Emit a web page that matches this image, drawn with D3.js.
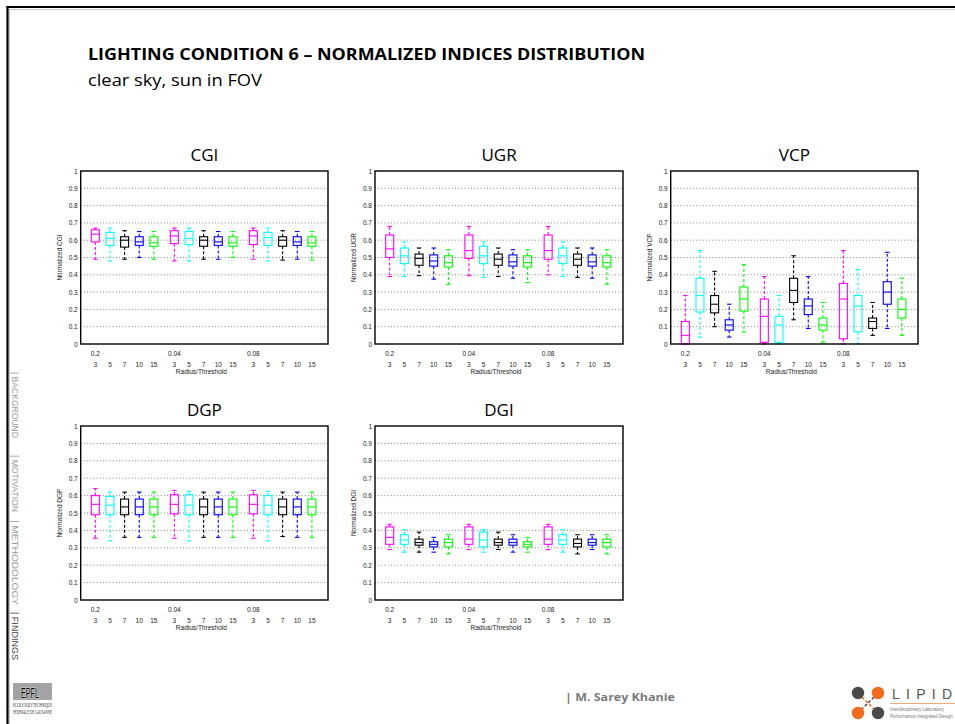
<!DOCTYPE html>
<html>
<head>
<meta charset="utf-8">
<script src="https://cdn.jsdelivr.net/npm/d3@7"></script>
<style>
  body { margin: 0; background: #fff; }
  svg { display: block; }
</style>
</head>
<body>
<div id="paper"></div>
<script>
// lighting condition 6 - normalized indices, box plots per radius/threshold

let colours = ["#ff00ff", "#00ffff", "#000000", "#0000ff", "#00ff00"];
let radii = ["0.2", "0.04", "0.08"];
let thresholds = ["3", "5", "7", "10", "15"];
let yTicks = [0, 0.1, 0.2, 0.3, 0.4, 0.5, 0.6, 0.7, 0.8, 0.9, 1];

// each box: [low whisker, q1, median, q3, high whisker], ordered radius then threshold
const cgi = [
  [0.49, 0.59, 0.635, 0.66, 0.67], [0.48, 0.57, 0.61, 0.645, 0.67], [0.49, 0.56, 0.60, 0.62, 0.655],
  [0.50, 0.57, 0.59, 0.62, 0.65], [0.49, 0.565, 0.585, 0.62, 0.65],
  [0.48, 0.58, 0.625, 0.655, 0.67], [0.48, 0.575, 0.61, 0.65, 0.67], [0.49, 0.565, 0.60, 0.62, 0.655],
  [0.49, 0.57, 0.59, 0.62, 0.65], [0.50, 0.565, 0.585, 0.62, 0.65],
  [0.49, 0.575, 0.625, 0.655, 0.67], [0.48, 0.57, 0.615, 0.645, 0.67], [0.485, 0.565, 0.60, 0.62, 0.655],
  [0.49, 0.57, 0.59, 0.62, 0.65], [0.485, 0.565, 0.585, 0.62, 0.65]
];
const ugr = [
  [0.39, 0.50, 0.55, 0.63, 0.68], [0.39, 0.465, 0.51, 0.555, 0.59], [0.395, 0.455, 0.495, 0.52, 0.555],
  [0.375, 0.45, 0.48, 0.515, 0.555], [0.345, 0.445, 0.47, 0.51, 0.545],
  [0.395, 0.495, 0.54, 0.63, 0.68], [0.385, 0.465, 0.51, 0.565, 0.59], [0.39, 0.455, 0.49, 0.52, 0.555],
  [0.38, 0.45, 0.475, 0.515, 0.545], [0.355, 0.445, 0.47, 0.51, 0.545],
  [0.40, 0.49, 0.54, 0.63, 0.68], [0.39, 0.465, 0.51, 0.555, 0.59], [0.385, 0.455, 0.49, 0.52, 0.555],
  [0.38, 0.45, 0.475, 0.515, 0.555], [0.345, 0.445, 0.47, 0.51, 0.545]
];
const vcp = [
  [0.0, 0.0, 0.05, 0.13, 0.28], [0.04, 0.185, 0.28, 0.38, 0.54], [0.10, 0.18, 0.23, 0.28, 0.42],
  [0.04, 0.08, 0.11, 0.14, 0.23], [0.07, 0.19, 0.26, 0.33, 0.46],
  [0.0, 0.01, 0.16, 0.26, 0.39], [0.0, 0.01, 0.11, 0.16, 0.28], [0.14, 0.24, 0.31, 0.38, 0.51],
  [0.09, 0.17, 0.22, 0.26, 0.39], [0.01, 0.08, 0.11, 0.15, 0.24],
  [0.0, 0.03, 0.26, 0.35, 0.54], [0.0, 0.07, 0.22, 0.28, 0.43], [0.05, 0.09, 0.13, 0.15, 0.24],
  [0.09, 0.23, 0.30, 0.36, 0.53], [0.05, 0.15, 0.20, 0.26, 0.38]
];
const dgp = [
  [0.355, 0.49, 0.55, 0.60, 0.64], [0.34, 0.49, 0.545, 0.595, 0.62], [0.36, 0.49, 0.535, 0.58, 0.62],
  [0.36, 0.49, 0.535, 0.58, 0.62], [0.36, 0.49, 0.535, 0.58, 0.62],
  [0.355, 0.495, 0.55, 0.605, 0.63], [0.34, 0.49, 0.545, 0.605, 0.625], [0.36, 0.49, 0.535, 0.58, 0.62],
  [0.36, 0.49, 0.535, 0.58, 0.62], [0.36, 0.49, 0.535, 0.58, 0.62],
  [0.355, 0.495, 0.55, 0.605, 0.63], [0.34, 0.49, 0.545, 0.60, 0.625], [0.365, 0.49, 0.535, 0.58, 0.62],
  [0.36, 0.49, 0.535, 0.58, 0.62], [0.36, 0.49, 0.535, 0.58, 0.62]
];
const dgi = [
  [0.29, 0.32, 0.36, 0.42, 0.435], [0.275, 0.32, 0.345, 0.375, 0.405], [0.275, 0.315, 0.33, 0.35, 0.39],
  [0.275, 0.305, 0.32, 0.335, 0.36], [0.265, 0.305, 0.33, 0.35, 0.375],
  [0.29, 0.32, 0.35, 0.42, 0.435], [0.275, 0.305, 0.345, 0.39, 0.405], [0.29, 0.315, 0.33, 0.35, 0.39],
  [0.275, 0.315, 0.33, 0.35, 0.375], [0.275, 0.305, 0.32, 0.335, 0.36],
  [0.29, 0.32, 0.35, 0.42, 0.435], [0.275, 0.32, 0.345, 0.375, 0.405], [0.265, 0.305, 0.325, 0.35, 0.375],
  [0.29, 0.315, 0.33, 0.35, 0.375], [0.265, 0.305, 0.33, 0.35, 0.375]
];

const panels = [
  { title: "CGI", stats: cgi, x: 80.7, y: 171, w: 247.3, h: 173 },
  { title: "UGR", stats: ugr, x: 375, y: 171, w: 248, h: 173 },
  { title: "VCP", stats: vcp, x: 670.7, y: 171, w: 247.3, h: 173 },
  { title: "DGP", stats: dgp, x: 80.7, y: 426, w: 247.3, h: 174 },
  { title: "DGI", stats: dgi, x: 375, y: 426, w: 248, h: 174 }
];

const svg = d3
  .select("#paper")
  .append("svg")
  .attr("width", 955)
  .attr("height", 724)
  .style("font-family", "'Liberation Sans', Arial, sans-serif");

// slide frame
svg.append("line").attr("x1", 9.5).attr("x2", 9.5).attr("y1", 9).attr("y2", 724).attr("stroke", "#c8c8c8");
svg.append("line").attr("x1", 9).attr("x2", 955).attr("y1", 9.5).attr("y2", 9.5).attr("stroke", "#c8c8c8");
svg.append("line").attr("x1", 7.5).attr("x2", 7.5).attr("y1", 6).attr("y2", 724).attr("stroke", "#000").attr("stroke-width", 2.2);
svg.append("line").attr("x1", 6.5).attr("x2", 955).attr("y1", 7).attr("y2", 7).attr("stroke", "#000").attr("stroke-width", 2.2);

// heading
svg.append("text").attr("x", 88).attr("y", 60)
  .attr("textLength", 557).attr("lengthAdjust", "spacingAndGlyphs")
  .style("font-family", "'Open Sans', sans-serif").style("font-weight", "bold").style("font-size", "16px")
  .text("LIGHTING CONDITION 6 \u2013 NORMALIZED INDICES DISTRIBUTION");
svg.append("text").attr("x", 88).attr("y", 86)
  .attr("textLength", 174).attr("lengthAdjust", "spacingAndGlyphs")
  .style("font-family", "'Open Sans', sans-serif").style("font-size", "16px")
  .text("clear sky, sun in FOV");

function drawPanel(p) {
  const g = svg.append("g");
  const x = d3.scaleLinear().domain([0, 16.9]).range([p.x, p.x + p.w]);
  const y = d3.scaleLinear().domain([0, 1]).range([p.y + p.h, p.y]);
  const pos = (k) => 1 + (k % 5) + 5.4 * Math.floor(k / 5);

  g.append("text").attr("x", p.x + p.w / 2).attr("y", p.y - 10)
    .attr("text-anchor", "middle")
    .style("font-family", "'Open Sans', sans-serif").style("font-size", "17px").style("font-weight", "400")
    .text(p.title);

  // dotted grid
  g.selectAll(".grid").data(yTicks.slice(1, -1)).join("line")
    .attr("x1", p.x).attr("x2", p.x + p.w)
    .attr("y1", (d) => y(d)).attr("y2", (d) => y(d))
    .attr("stroke", "#666").attr("stroke-width", 0.8).attr("stroke-dasharray", "1,2.2");

  const yAxis = d3.axisLeft(y).tickValues(yTicks).tickSize(0).tickPadding(3).tickFormat(d3.format("~g"));
  const ya = g.append("g").attr("transform", `translate(${p.x},0)`).call(yAxis);
  ya.select(".domain").remove();
  ya.selectAll("text").style("font-size", "6.5px").style("font-family", "'Liberation Sans', Arial, sans-serif").attr("fill", "#222");

  g.append("text")
    .attr("transform", `translate(${p.x - 19},${p.y + p.h / 2}) rotate(-90)`)
    .attr("text-anchor", "middle").style("font-size", "6.5px").attr("fill", "#222")
    .text("Normalized " + p.title);

  // x labels
  const base = p.y + p.h;
  g.selectAll(".grp").data(radii).join("text")
    .attr("x", (d, i) => x(pos(i * 5))).attr("y", base + 11.5)
    .attr("text-anchor", "middle").style("font-size", "6.5px").attr("fill", "#222")
    .text((d) => d);
  g.selectAll(".thr").data(p.stats).join("text")
    .attr("x", (d, k) => x(pos(k))).attr("y", base + 23)
    .attr("text-anchor", "middle").style("font-size", "6.5px").attr("fill", "#222")
    .text((d, k) => thresholds[k % 5]);
  g.append("text").attr("x", p.x + p.w / 2 - 3).attr("y", base + 30)
    .attr("text-anchor", "middle").style("font-size", "6.5px").attr("fill", "#222")
    .text("Radius/Threshold");

  // boxes
  const bw = 8, cw = 4.5;
  const boxes = g.selectAll(".box").data(p.stats).join("g")
    .attr("stroke", (d, k) => colours[k % 5]).attr("fill", "none").attr("stroke-width", 1.1);
  boxes.append("line")
    .attr("x1", (d, k) => x(pos(k))).attr("x2", (d, k) => x(pos(k)))
    .attr("y1", (d) => y(d[3])).attr("y2", (d) => y(d[4]))
    .attr("stroke-dasharray", "3,2");
  boxes.append("line")
    .attr("x1", (d, k) => x(pos(k))).attr("x2", (d, k) => x(pos(k)))
    .attr("y1", (d) => y(d[1])).attr("y2", (d) => y(d[0]))
    .attr("stroke-dasharray", "3,2");
  boxes.append("line")
    .attr("x1", (d, k) => x(pos(k)) - cw / 2).attr("x2", (d, k) => x(pos(k)) + cw / 2)
    .attr("y1", (d) => y(d[4])).attr("y2", (d) => y(d[4]));
  boxes.append("line")
    .attr("x1", (d, k) => x(pos(k)) - cw / 2).attr("x2", (d, k) => x(pos(k)) + cw / 2)
    .attr("y1", (d) => y(d[0])).attr("y2", (d) => y(d[0]));
  boxes.append("rect")
    .attr("x", (d, k) => x(pos(k)) - bw / 2).attr("width", bw)
    .attr("y", (d) => y(d[3])).attr("height", (d) => y(d[1]) - y(d[3]));
  boxes.append("line")
    .attr("x1", (d, k) => x(pos(k)) - bw / 2).attr("x2", (d, k) => x(pos(k)) + bw / 2)
    .attr("y1", (d) => y(d[2])).attr("y2", (d) => y(d[2]));

  // frame
  g.append("rect").attr("x", p.x).attr("y", p.y).attr("width", p.w).attr("height", p.h)
    .attr("fill", "none").attr("stroke", "#000").attr("stroke-width", 1.4);
}

panels.forEach(drawPanel);

// side navigation
const nav = [
  { label: "| BACKGROUND", y: 372, w: 66, c: "#999" },
  { label: "| MOTIVATION", y: 455, w: 57, c: "#999" },
  { label: "| METHODOLOGY", y: 520, w: 85, c: "#999" },
  { label: "| FINDINGS", y: 612, w: 48, c: "#444" }
];
svg.selectAll(".nav").data(nav).join("text")
  .attr("transform", (d) => `translate(12,${d.y}) rotate(90)`)
  .attr("textLength", (d) => d.w).attr("lengthAdjust", "spacingAndGlyphs")
  .style("font-size", "8.5px").attr("fill", (d) => d.c)
  .text((d) => d.label);

// footer: EPFL logo
svg.append("rect").attr("x", 13).attr("y", 683).attr("width", 39).attr("height", 17).attr("fill", "#a3a3a3");
svg.append("text").attr("x", 30).attr("y", 697.5).attr("text-anchor", "middle")
  .attr("textLength", 18).attr("lengthAdjust", "spacingAndGlyphs")
  .attr("stroke", "#fff").attr("stroke-width", 0.7).attr("paint-order", "stroke")
  .style("font-family", "'Liberation Sans Narrow', 'Liberation Sans', sans-serif").style("font-size", "15px")
  .text("EPFL");
svg.append("text").attr("x", 13).attr("y", 707).attr("textLength", 39).attr("lengthAdjust", "spacingAndGlyphs")
  .style("font-family", "'Liberation Serif', serif").style("font-size", "6px").attr("fill", "#333").text("\u00c9COLE POLYTECHNIQUE");
svg.append("text").attr("x", 13).attr("y", 714).attr("textLength", 39).attr("lengthAdjust", "spacingAndGlyphs")
  .style("font-family", "'Liberation Serif', serif").style("font-size", "6px").attr("fill", "#333").text("F\u00c9D\u00c9RALE DE LAUSANNE");

// footer: author
svg.append("text").attr("x", 565).attr("y", 701)
  .attr("textLength", 110).attr("lengthAdjust", "spacingAndGlyphs")
  .style("font-family", "'Open Sans', sans-serif").style("font-weight", "bold").style("font-size", "11px")
  .attr("fill", "#7a7a7a").text("| M. Sarey Khanie");

// footer: LIPID logo
const dots = [
  { cx: 858, cy: 693, c: "#4a4a4a" }, { cx: 878, cy: 693, c: "#f26a1b" },
  { cx: 858, cy: 713, c: "#f26a1b" }, { cx: 878, cy: 713, c: "#4a4a4a" }
];
svg.append("line").attr("x1", 862).attr("y1", 697).attr("x2", 874).attr("y2", 709).attr("stroke", "#f26a1b").attr("stroke-width", 1.5).attr("stroke-dasharray", "3,2");
svg.append("line").attr("x1", 874).attr("y1", 697).attr("x2", 862).attr("y2", 709).attr("stroke", "#4a4a4a").attr("stroke-width", 1.5).attr("stroke-dasharray", "3,2");
svg.selectAll(".dot").data(dots).join("circle")
  .attr("cx", (d) => d.cx).attr("cy", (d) => d.cy).attr("r", 6.2).attr("fill", (d) => d.c);
svg.append("text").attr("x", 892).attr("y", 699)
  .attr("textLength", 60).attr("lengthAdjust", "spacing")
  .style("font-size", "14px").attr("fill", "#555").text("LIPID");
svg.append("line").attr("x1", 890).attr("x2", 955).attr("y1", 703.5).attr("y2", 703.5).attr("stroke", "#f7a878").attr("stroke-width", 1);
svg.append("text").attr("x", 890).attr("y", 711).style("font-size", "4.5px").attr("fill", "#777").text("Interdisciplinary   Laboratory");
svg.append("text").attr("x", 890).attr("y", 718).style("font-size", "4.5px").attr("fill", "#777").text("Performance-Integrated Design");
</script>
</body>
</html>
